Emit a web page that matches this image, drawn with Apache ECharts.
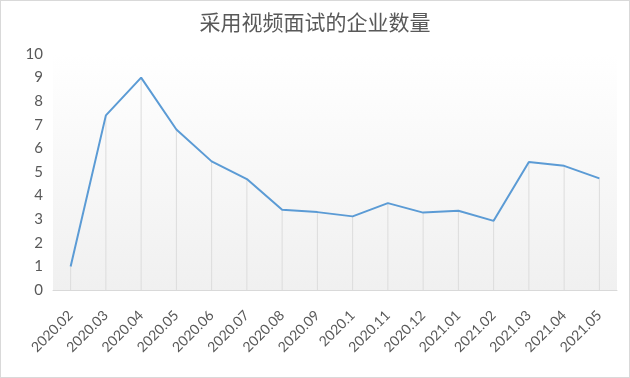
<!DOCTYPE html>
<html>
<head>
<meta charset="utf-8">
<script src="https://cdn.jsdelivr.net/npm/echarts@6/dist/echarts.min.js"></script>
<style>
  html, body { margin: 0; padding: 0; background: #fff; }
  #chart { width: 630px; height: 378px; box-sizing: border-box; border: 1px solid #d9d9d9; }
</style>
</head>
<body>
<div id="chart"></div>
<script>
// 月份
const months = [
  "2020.02", "2020.03", "2020.04", "2020.05", "2020.06", "2020.07", "2020.08", "2020.09",
  "2020.1", "2020.11", "2020.12", "2021.01", "2021.02", "2021.03", "2021.04", "2021.05"
];
// 企业数量
const counts = [1.0, 7.4, 9.0, 6.8, 5.45, 4.7, 3.4, 3.3, 3.12, 3.68, 3.28, 3.36, 2.93, 5.42, 5.26, 4.73];
const yTicks = { min: 0, max: 10, interval: 1 };

const chart = echarts.init(document.getElementById("chart"));
const option = {
  animation: false,
  title: {
    text: "采用视频面试的企业数量",
    left: "center",
    top: 6,
    textStyle: {
      fontFamily: "Noto Sans CJK SC",
      fontWeight: "normal",
      fontSize: 21,
      color: "#595959"
    }
  },
  grid: {
    left: 52,
    right: 12,
    top: 53,
    bottom: 87,
    show: true,
    borderWidth: 0,
    backgroundColor: new echarts.graphic.LinearGradient(0, 0, 0, 1, [
      { offset: 0, color: "#ffffff" },
      { offset: 1, color: "#f0f0f0" }
    ])
  },
  xAxis: {
    type: "category",
    data: months,
    boundaryGap: true,
    axisLine: { lineStyle: { color: "#d9d9d9", width: 1 } },
    axisTick: { show: false },
    axisLabel: {
      rotate: 45,
      interval: 0,
      margin: 23,
      fontFamily: "Lato",
      fontSize: 14,
      color: "#595959"
    }
  },
  yAxis: {
    type: "value",
    min: yTicks.min,
    max: yTicks.max,
    interval: yTicks.interval,
    axisLine: { show: false },
    axisTick: { show: false },
    splitLine: { show: false },
    axisLabel: {
      margin: 10,
      fontFamily: "Lato",
      fontSize: 15,
      color: "#595959"
    }
  },
  series: [
    {
      // 垂直线
      type: "bar",
      data: counts,
      barWidth: 1,
      silent: true,
      itemStyle: { color: "#dcdcdc" },
      z: 1
    },
    {
      type: "line",
      data: counts,
      showSymbol: false,
      lineStyle: { color: "#5b9bd5", width: 2 },
      itemStyle: { color: "#5b9bd5" },
      z: 3
    }
  ]
};
chart.setOption(option);
</script>
</body>
</html>
